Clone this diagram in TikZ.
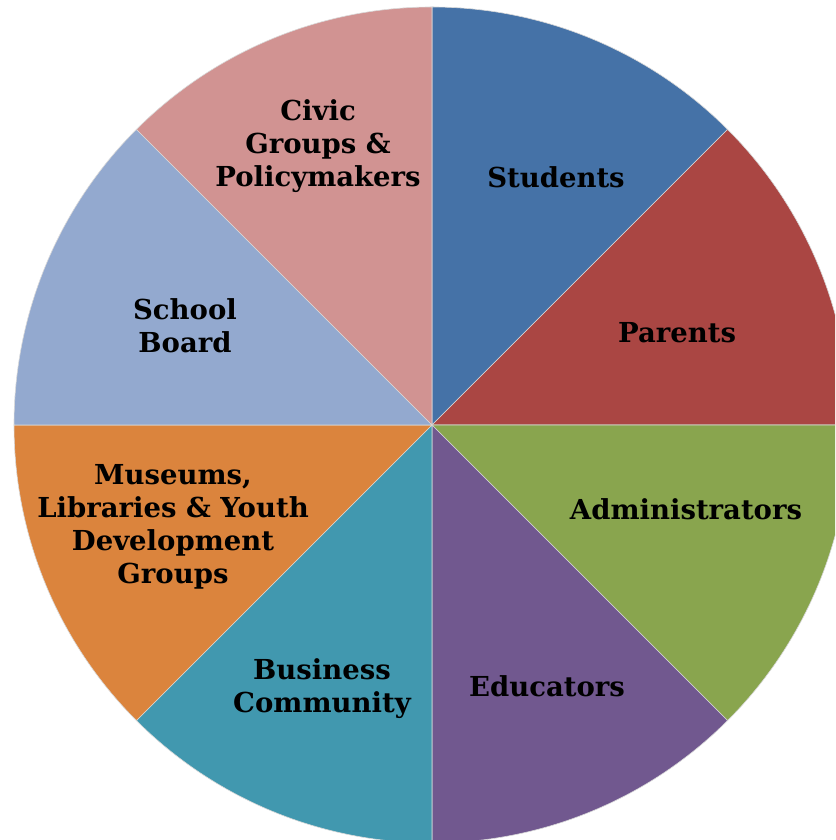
\documentclass[tikz,border=0pt]{standalone}
\usepackage{fontspec}
\setmainfont{DejaVu Serif}
\definecolor{cStudents}{HTML}{4572A7}
\definecolor{cParents}{HTML}{AA4643}
\definecolor{cAdmin}{HTML}{89A54E}
\definecolor{cEducators}{HTML}{71588F}
\definecolor{cBusiness}{HTML}{4198AF}
\definecolor{cMuseums}{HTML}{DB843D}
\definecolor{cBoard}{HTML}{93A9CF}
\definecolor{cCivic}{HTML}{D19392}
\tikzset{
  slicelabel/.style={align=center, text=black, font=\fontsize{27.5}{33}\selectfont\bfseries, inner sep=0pt},
  slicefill/.style={fill=#1, draw=white!85!black, line width=0.6pt}
}
\newcommand{\pieslice}[3]{%
  \filldraw[slicefill=#3] (432,415) -- ++(#1:418) arc[start angle=#1, end angle=#2, radius=418] -- cycle;}
\begin{document}
\begin{tikzpicture}[x=1pt,y=1pt]
\useasboundingbox (0,0) rectangle (835,840);
\clip (0,0) rectangle (835,840);
\pieslice{45}{90}{cStudents}
\pieslice{0}{45}{cParents}
\pieslice{-45}{0}{cAdmin}
\pieslice{-90}{-45}{cEducators}
\pieslice{-135}{-90}{cBusiness}
\pieslice{-180}{-135}{cMuseums}
\pieslice{135}{180}{cBoard}
\pieslice{90}{135}{cCivic}
\node[slicelabel] (students) at (556,663) {Students};
\node[slicelabel] (parents) at (677,507) {Parents};
\node[slicelabel] (admin) at (686,331) {Administrators};
\node[slicelabel] (educators) at (547,154) {Educators};
\node[slicelabel] (business) at (322,151) {Business\\Community};
\node[slicelabel] (museums) at (173,313) {Museums,\\Libraries \& Youth\\Development\\Groups};
\node[slicelabel] (board) at (185,514) {School\\Board};
\node[slicelabel] (civic) at (318,694) {Civic\\Groups \&\\Policymakers};
\end{tikzpicture}
\end{document}
